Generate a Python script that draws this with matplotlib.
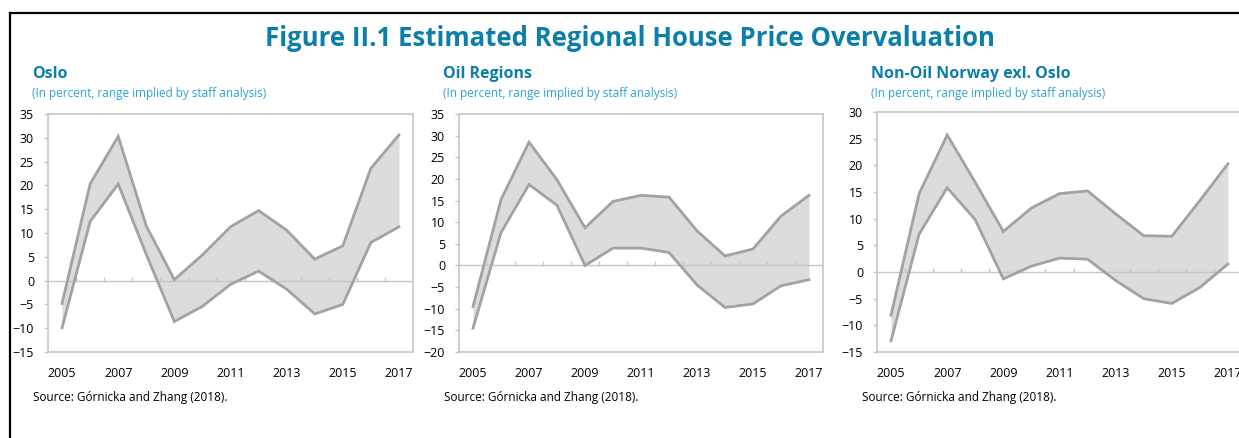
import numpy as np
import matplotlib
matplotlib.use('Agg')
import matplotlib.pyplot as plt
from matplotlib.lines import Line2D
import matplotlib.transforms as mtransforms

plt.rcParams['font.family'] = ['Open Sans', 'DejaVu Sans']

years = list(range(2005, 2018))

# upper / lower bounds of the overvaluation range, percent
oslo_hi = [-4.8, 20.3, 30.3, 11.5, 0.2, 5.4, 11.3, 14.7, 10.6, 4.5, 7.3, 23.6, 30.6]
oslo_lo = [-9.9, 12.4, 20.3, 5.5, -8.6, -5.4, -0.8, 2.0, -1.8, -7.0, -5.0, 8.0, 11.3]

oil_hi = [-9.5, 15.2, 28.5, 19.8, 8.7, 14.8, 16.2, 15.8, 8.0, 2.2, 3.8, 11.4, 16.2]
oil_lo = [-14.5, 7.6, 18.7, 13.9, 0.0, 4.0, 4.0, 3.0, -4.5, -9.7, -8.9, -4.7, -3.3]

nonoil_hi = [-8.1, 14.7, 25.7, 16.8, 7.6, 12.0, 14.7, 15.2, 10.9, 6.8, 6.7, 13.4, 20.3]
nonoil_lo = [-12.9, 7.1, 15.8, 9.8, -1.3, 1.1, 2.6, 2.4, -1.6, -5.0, -5.9, -2.9, 1.5]

titles = ['Oslo', 'Oil Regions', 'Non-Oil Norway exl. Oslo']
subtitle = '(In percent, range implied by staff analysis)'
source = 'Source: Górnicka and Zhang (2018).'
ylims = [(-15, 35), (-20, 35), (-15, 30)]
xticks = [2005, 2007, 2009, 2011, 2013, 2015, 2017]

TITLE_C = '#0b7fa9'
SUB_C = '#2ba2d3'
LINE_C = '#a2a2a2'
FILL_C = '#dcdcdc'
FRAME_C = '#c6c6c6'

W, H = 1239, 438
fig = plt.figure(figsize=(W / 100, H / 100), dpi=100)

# black frame round the figure (top and left edges)
fig.add_artist(Line2D([9.5 / W, 9.5 / W], [0, 1 - 12.5 / H], color='black', lw=1.6,
                      transform=fig.transFigure))
fig.add_artist(Line2D([9.5 / W, 1.0], [1 - 12.5 / H, 1 - 12.5 / H], color='black', lw=1.6,
                      transform=fig.transFigure))

fig.text(630 / W, 1 - 38 / H, 'Figure II.1 Estimated Regional House Price Overvaluation',
         ha='center', va='center', fontsize=18.5, fontweight='bold', color=TITLE_C)

# pixel boxes: left, top, right, bottom
boxes = [(48, 114, 413, 352), (459, 114, 823, 352), (877, 112, 1242, 352)]
title_x = [32, 443, 871]
source_x = [33, 444, 862]
data = [(oslo_hi, oslo_lo), (oil_hi, oil_lo), (nonoil_hi, nonoil_lo)]

for k in range(3):
    l, t, r, b = boxes[k]
    ax = fig.add_axes([l / W, 1 - b / H, (r - l) / W, (b - t) / H])
    hi, lo = data[k]
    ax.fill_between(years, lo, hi, color=FILL_C, lw=0, zorder=1)
    ax.axhline(0, color=FRAME_C, lw=1.0, zorder=2)
    # small category marks along the zero line
    trans = mtransforms.blended_transform_factory(ax.transData, ax.transAxes)
    y0 = (0 - ylims[k][0]) / (ylims[k][1] - ylims[k][0])
    for yr in np.arange(2005.5, 2017, 1.0):
        ax.plot([yr, yr], [y0, y0 + 0.013], color=FRAME_C, lw=1.0, transform=trans, zorder=2)
    ax.plot(years, hi, color=LINE_C, lw=2.0, zorder=3, solid_joinstyle='miter')
    ax.plot(years, lo, color=LINE_C, lw=2.0, zorder=3, solid_joinstyle='miter')

    ax.set_xlim(2004.5, 2017.5)
    ax.set_ylim(*ylims[k])
    ax.set_yticks(np.arange(ylims[k][0], ylims[k][1] + 1, 5))
    ax.set_xticks(xticks)
    ax.set_xticklabels([str(x) for x in xticks])
    for s in ax.spines.values():
        s.set_color(FRAME_C)
        s.set_linewidth(1.2)
    ax.tick_params(axis='x', length=0, pad=11, labelsize=9, labelcolor='black')
    ax.tick_params(axis='y', length=3, width=1, color=FRAME_C, pad=7, labelsize=9,
                   labelcolor='black')

    fig.text(title_x[k] / W, 1 - 74 / H, titles[k], ha='left', va='center',
             fontsize=11.5, fontweight='bold', color=TITLE_C)
    fig.text(title_x[k] / W, 1 - 93 / H, subtitle, ha='left', va='center',
             fontsize=8.5, color=SUB_C)
    fig.text(source_x[k] / W, 1 - 398 / H, source, ha='left', va='center',
             fontsize=8.5, color='black')

fig.savefig('out.png', dpi=100)
